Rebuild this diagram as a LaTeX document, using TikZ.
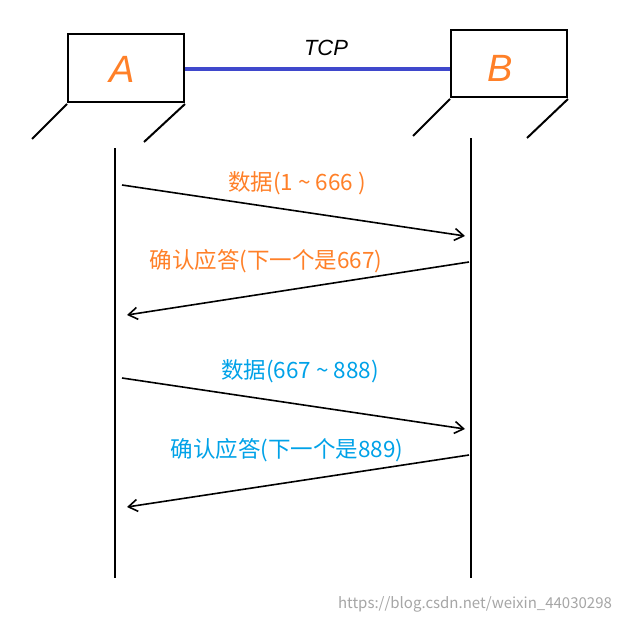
\documentclass[tikz,border=0pt]{standalone}
\usepackage{fontspec}
\setmainfont{Noto Sans CJK SC}
\usetikzlibrary{arrows.meta}
\definecolor{org}{RGB}{255,128,40}
\definecolor{sky}{RGB}{0,162,232}
\definecolor{tcp}{RGB}{63,72,204}
\begin{document}
\begin{tikzpicture}[x=1pt,y=-1pt,
 ln/.style={line width=2pt,black},
 msg/.style={line width=1.6pt,-{Straight Barb[length=9pt,width=12pt]}},
 lbl/.style={font=\fontsize{22.5}{26}\selectfont,inner sep=0pt}]
\useasboundingbox[fill=white] (0,0) rectangle (620,623);
\node[draw,line width=2pt,minimum width=116pt,minimum height=68pt,inner sep=0pt] (A) at (126,68) {};
\node[draw,line width=2pt,minimum width=116pt,minimum height=67pt,inner sep=0pt] (B) at (509,63.5) {};
\node[org,font=\fontsize{38}{38}\selectfont] at (122,69) {\fontspec{Liberation Sans}\itshape A};
\node[org,font=\fontsize{38}{38}\selectfont] at (500,68) {\fontspec{Liberation Sans}\itshape B};
\draw[ln] (A.south west)++(0,1) -- ++(-35,35);
\draw[ln] (A.south east)++(0,1) -- ++(-41,38);
\draw[ln] (B.south west)++(0,1) -- ++(-37,37);
\draw[ln] (B.south east)++(0,1) -- ++(-41,39);
\draw[tcp,line width=4pt] (A.east) ++(0,1) coordinate (t1) -- (t1 -| B.west);
\node[font=\fontsize{22}{24}\selectfont] (T) at (326,48) {\fontspec{Liberation Sans}\itshape TCP};
\coordinate (a0) at (115,148); \coordinate (a1) at (115,578);
\coordinate (b0) at (471,138); \coordinate (b1) at (471,578);
\draw[ln] (a0)--(a1); \draw[ln] (b0)--(b1);
\coordinate (p1) at (122,185); \coordinate (q1) at (465,236);
\coordinate (p2) at (469,262); \coordinate (q2) at (127,315);
\coordinate (p3) at (122,378); \coordinate (q3) at (465,429);
\coordinate (p4) at (469,455); \coordinate (q4) at (127,507);
\draw[msg] (p1)--(q1); \draw[msg] (p2)--(q2);
\draw[msg] (p3)--(q3); \draw[msg] (p4)--(q4);
\node[lbl,org] (l1) at (297,183) {数据(1 \textasciitilde{} 666 )};
\node[lbl,org] (l2) at (266,261) {确认应答(下一个是667)};
\node[lbl,sky] (l3) at (300,371) {数据(667 \textasciitilde{} 888)};
\node[lbl,sky] (l4) at (287,450) {确认应答(下一个是889)};
\node[gray!70,font=\fontsize{15}{17}\selectfont,inner sep=0pt] (w) at (475,604) {https://blog.csdn.net/weixin\_44030298};
\end{tikzpicture}
\end{document}
